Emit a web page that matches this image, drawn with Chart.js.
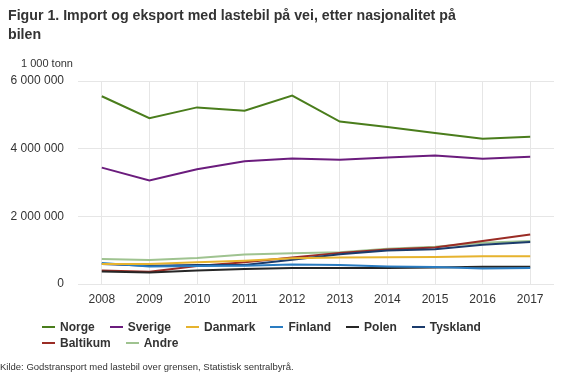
<!DOCTYPE html>
<html>
<head>
<meta charset="utf-8">
<script src="https://cdn.jsdelivr.net/npm/chart.js@4"></script>
<style>
  html, body { margin: 0; padding: 0; background: #fff; }
  body { width: 563px; height: 375px; position: relative; overflow: hidden; font-family: "Liberation Sans", Arial, sans-serif; color: #333; }
  #wrap { position: absolute; left: 0; top: 0; width: 563px; height: 375px; }
  #title { position: absolute; left: 8px; top: 6px; width: 470px; font-size: 14.2px; font-weight: bold; line-height: 19px; color: #333; }
  #unit { position: absolute; left: 21px; top: 57px; font-size: 11px; color: #333; }
  #legend { position: absolute; left: 42px; top: 319px; width: 520px; font-size: 12px; font-weight: bold; color: #333; line-height: 16px; }
  #legend span.item { display: inline-block; margin-right: 15px; white-space: nowrap; }
  #legend span.mark { display: inline-block; width: 13px; height: 2px; vertical-align: middle; margin-right: 5px; position: relative; top: -1px; }
  #source { position: absolute; left: 0; top: 361px; font-size: 9.5px; color: #333; }
</style>
</head>
<body>
<div id="wrap"><canvas id="chart" width="563" height="375"></canvas></div>
<div id="title">Figur 1. Import og eksport med lastebil på vei, etter nasjonalitet på<br>bilen</div>
<div id="unit">1 000 tonn</div>
<div id="legend"></div>
<div id="source">Kilde: Godstransport med lastebil over grensen, Statistisk sentralbyrå.</div>
<script>
// Import og eksport med lastebil, 1 000 tonn, etter nasjonalitet på bilen
const years = ['2008', '2009', '2010', '2011', '2012', '2013', '2014', '2015', '2016', '2017'];

const norge    = [5550000, 4900000, 5220000, 5120000, 5570000, 4800000, 4640000, 4460000, 4290000, 4350000];
const sverige  = [3440000, 3060000, 3390000, 3630000, 3710000, 3670000, 3740000, 3800000, 3700000, 3760000];
const danmark  = [590000, 590000, 640000, 690000, 760000, 780000, 790000, 800000, 820000, 820000];
const finland  = [620000, 520000, 530000, 540000, 580000, 560000, 520000, 500000, 460000, 470000];
const polen    = [370000, 340000, 400000, 440000, 470000, 470000, 470000, 490000, 510000, 510000];
const tyskland = [590000, 540000, 560000, 560000, 720000, 880000, 990000, 1030000, 1160000, 1240000];
const baltikum = [400000, 360000, 530000, 640000, 780000, 920000, 1020000, 1080000, 1270000, 1460000];
const andre    = [740000, 710000, 770000, 870000, 910000, 940000, 1040000, 1100000, 1220000, 1270000];

const yTicks = [0, 2000000, 4000000, 6000000];

const series = [
  { label: 'Norge',    data: norge,    color: '#4a7d1c' },
  { label: 'Sverige',  data: sverige,  color: '#6b1c7d' },
  { label: 'Danmark',  data: danmark,  color: '#e6b32e' },
  { label: 'Finland',  data: finland,  color: '#2a7cc1' },
  { label: 'Polen',    data: polen,    color: '#262626' },
  { label: 'Tyskland', data: tyskland, color: '#1b3b6c' },
  { label: 'Baltikum', data: baltikum, color: '#9a2c25' },
  { label: 'Andre',    data: andre,    color: '#9fc390' }
];

const fmt = v => String(v).replace(/\B(?=(\d{3})+(?!\d))/g, ' ');

const ctx = document.getElementById('chart').getContext('2d');
const chart = new Chart(ctx, {
  type: 'line',
  data: {
    labels: years,
    datasets: series.map(s => ({
      label: s.label,
      data: s.data,
      borderColor: s.color,
      backgroundColor: s.color,
      borderWidth: 2,
      pointRadius: 0,
      tension: 0,
      fill: false
    }))
  },
  options: {
    responsive: false,
    animation: false,
    layout: { padding: { left: 0, right: 9, top: 81, bottom: 61 } },
    plugins: {
      legend: { display: false },
      tooltip: { enabled: false }
    },
    scales: {
      x: {
        offset: true,
        grid: { offset: false, color: '#e6e6e6', drawTicks: false },
        border: { display: false },
        ticks: { color: '#333', font: { family: 'Liberation Sans', size: 12 }, padding: 8 },
        afterFit: s => { s.height = 30; }
      },
      y: {
        min: 0,
        max: 6000000,
        afterBuildTicks: s => { s.ticks = yTicks.map(v => ({ value: v })); },
        grid: { color: '#e6e6e6', drawTicks: false },
        border: { display: false },
        ticks: { color: '#333', font: { family: 'Liberation Sans', size: 12 }, padding: 14, callback: v => fmt(v) },
        afterFit: s => { s.width = 78; }
      }
    }
  }
});

// HTML legend built from the datasets
const legend = document.getElementById('legend');
chart.data.datasets.forEach((ds, i) => {
  if (i === 6) legend.appendChild(document.createElement('br'));
  const item = document.createElement('span');
  item.className = 'item';
  const mark = document.createElement('span');
  mark.className = 'mark';
  mark.style.background = ds.borderColor;
  item.appendChild(mark);
  item.appendChild(document.createTextNode(ds.label));
  legend.appendChild(item);
});
</script>
</body>
</html>
